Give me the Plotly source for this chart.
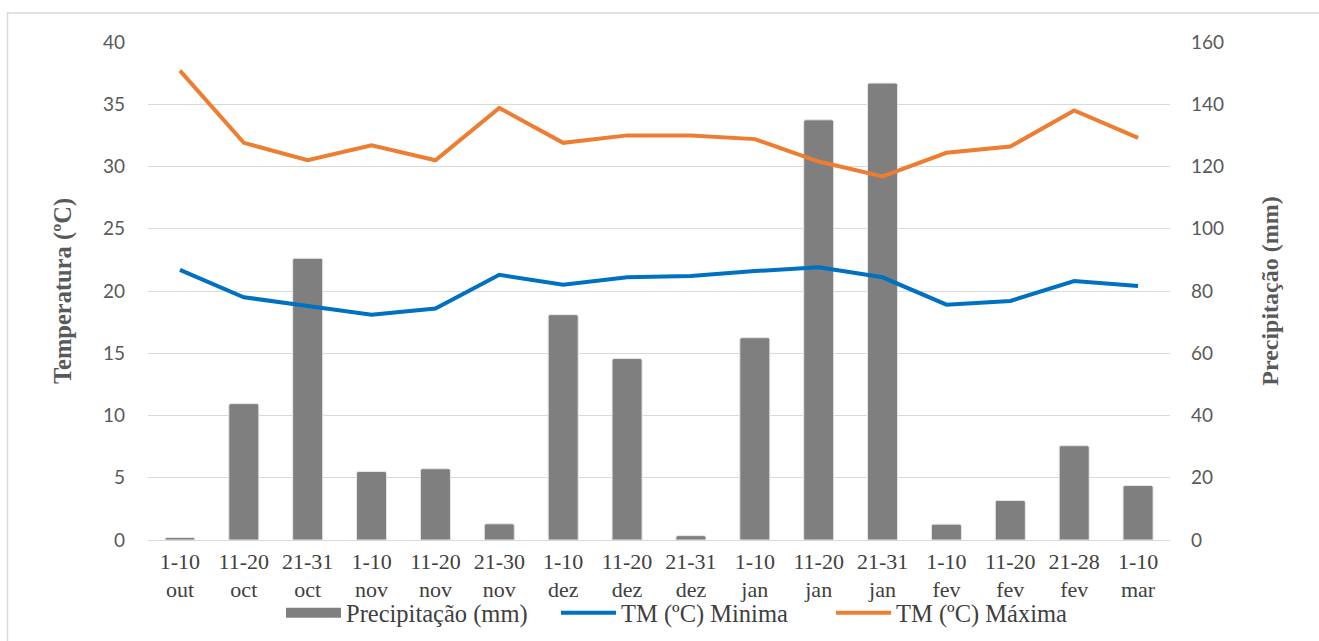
import plotly.graph_objects as go

periods = ["1-10", "11-20", "21-31", "1-10", "11-20", "21-30", "1-10", "11-20", "21-31",
           "1-10", "11-20", "21-31", "1-10", "11-20", "21-28", "1-10"]
months = ["out", "oct", "oct", "nov", "nov", "nov", "dez", "dez", "dez",
          "jan", "jan", "jan", "fev", "fev", "fev", "mar"]
precip_mm = [0.8, 43.8, 90.5, 22.0, 22.9, 5.2, 72.4, 58.3, 1.4,
             65.0, 135.0, 146.8, 5.1, 12.7, 30.3, 17.5]
tmin = [21.7, 19.5, 18.8, 18.1, 18.6, 21.3, 20.5, 21.1, 21.2,
        21.6, 21.9, 21.1, 18.9, 19.2, 20.8, 20.4]
tmax = [37.7, 31.9, 30.5, 31.7, 30.5, 34.7, 31.9, 32.5, 32.5,
        32.2, 30.4, 29.2, 31.1, 31.6, 34.5, 32.3]

cats = [f"{p}<br>{m}" for p, m in zip(periods, months)]

serif = "Liberation Serif, Times New Roman, serif"
sans = "Lato, Carlito, Calibri, sans-serif"
bar_color = "#7f7f7f"

fig = go.Figure()
fig.add_trace(go.Bar(
    x=cats, y=precip_mm, name="Precipitação (mm)", yaxis="y", showlegend=False,
    legendgroup="p",
    marker=dict(color=bar_color, line=dict(color="#e6e6e6", width=1), cornerradius=2),
))
# legend entry for the bars, drawn as a wide block like the original
fig.add_trace(go.Scatter(
    x=[None], y=[None], name="Precipitação (mm)", yaxis="y", mode="lines",
    legendgroup="p", line=dict(color=bar_color, width=17),
))
fig.add_trace(go.Scatter(
    x=cats, y=tmin, name="TM (ºC) Minima", yaxis="y2", mode="lines",
    line=dict(color="#0070C0", width=4),
))
fig.add_trace(go.Scatter(
    x=cats, y=tmax, name="TM (ºC) Máxima", yaxis="y2", mode="lines",
    line=dict(color="#ED7D31", width=4),
))

fig.update_layout(
    width=1319, height=641,
    margin=dict(l=148, r=149, t=42, b=101, autoexpand=False),
    paper_bgcolor="white", plot_bgcolor="white",
    bargap=0.53,
    showlegend=True,
    legend=dict(orientation="h", x=(281 - 148) / 1022, xanchor="left", y=-0.146,
                yanchor="middle",
                font=dict(family=serif, size=24.5, color="#404040"),
                itemwidth=55, entrywidth=205, entrywidthmode="pixels",
                traceorder="normal", bgcolor="rgba(0,0,0,0)"),
    xaxis=dict(
        type="category", showgrid=False, showline=True, linecolor="#d9d9d9", linewidth=1.3,
        ticks="", tickfont=dict(family=serif, size=22, color="#404040"),
        ticklabelstandoff=1, automargin=False,
    ),
    yaxis=dict(
        side="right", range=[0, 160], dtick=20, showgrid=True, gridcolor="#d9d9d9",
        gridwidth=1.3, zeroline=False, showline=False, ticks="",
        tickfont=dict(family=sans, size=19, color="#595959"),
        ticklabelstandoff=20, automargin=False,
        title=dict(text="<b>Precipitação (mm)</b>", standoff=38,
                   font=dict(family=serif, size=24, color="#595959")),
    ),
    yaxis2=dict(
        side="left", overlaying="y", range=[0, 40], dtick=5, showgrid=False,
        zeroline=False, showline=False, ticks="",
        tickfont=dict(family=sans, size=19, color="#595959"),
        ticklabelstandoff=22, automargin=False,
        title=dict(text="<b>Temperatura (ºC)</b>", standoff=24,
                   font=dict(family=serif, size=24.5, color="#595959")),
    ),
    shapes=[dict(type="rect", xref="paper", yref="paper",
                 x0=(7.5 - 148) / 1022, x1=(1330 - 148) / 1022,
                 y0=(540 - 660) / 498, y1=(540 - 13) / 498,
                 line=dict(color="#d9d9d9", width=1.5), fillcolor="rgba(0,0,0,0)",
                 layer="below")],
)

fig.write_html("out.html")
